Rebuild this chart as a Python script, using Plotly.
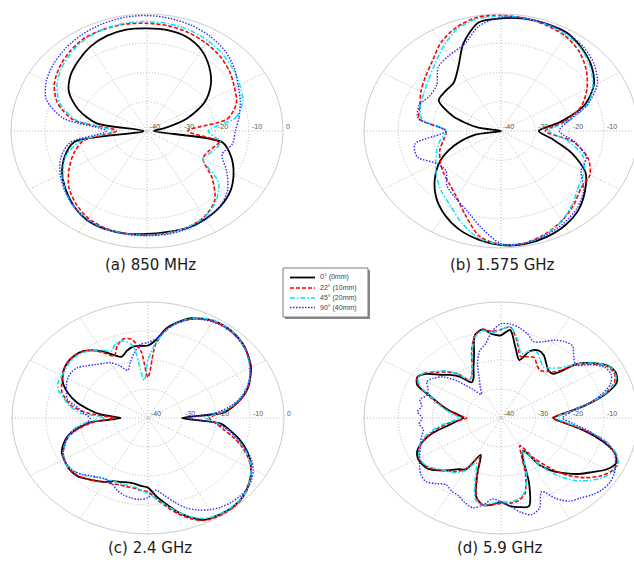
import math
import plotly.graph_objects as go

W, H = 634, 562
R_MIN = -40          # dB at the centre
RING_VALUES = [-40, -30, -20, -10, 0]

SERIES_NAMES = ["0° (0mm)", "22° (10mm)", "45° (20mm)", "90° (40mm)"]
PANEL_TITLES = ["(a) 850 MHz", "(b) 1.575 GHz", "(c) 2.4 GHz", "(d) 5.9 GHz"]

ANGLES_10 = list(range(0, 360, 10))
ANGLES_5 = list(range(0, 360, 5))

# ---------------- (a) 850 MHz, 10 deg steps ----------------
a_0mm = [-38, -35, -27.5, -20.5, -15.5, -11.5, -8, -5.8, -5, -4.9, -4.8, -5.4, -6.7, -8.6, -10.6, -13.5, -18.5, -25,
         -39, -18.3, -14.2, -11.2, -8.8, -6.5, -4.8, -4.3, -4.4, -4.8, -5, -4.8, -5.4, -6.4, -8, -10.6, -13.6, -17.4]
a_10mm = [-28, -16, -12, -10.3, -8.3, -6.6, -5.3, -4.2, -3.5, -3.2, -2.9, -3, -3.3, -4.6, -6.3, -8.5, -12, -18,
          -31, -21, -17, -13.5, -10, -7.5, -5.5, -4.6, -4.4, -4.4, -4.6, -5.0, -6.2, -9, -15, -21, -20.5, -18.5]
a_20mm = [-22, -13.5, -10, -8.5, -7, -5.5, -4.3, -3.3, -2.8, -2.6, -2.6, -2.9, -3.7, -5.2, -7, -9.4, -12.8, -19,
          -30, -20, -14.5, -11.5, -8.5, -6.5, -5.0, -4.4, -4.3, -4.4, -4.6, -5.0, -6.0, -8.5, -12.5, -21, -19.5, -18]
a_40mm = [-14, -12.5, -10.8, -9, -6.5, -4.3, -2.7, -1.6, -0.9, -0.5, -0.6, -1.1, -1.9, -2.9, -4.2, -5.8, -8.5, -15,
          -28, -17, -13, -10.5, -8.4, -6.4, -5.0, -4.4, -4.2, -4.2, -4.2, -4.5, -5.2, -6.5, -9, -13, -16.5, -14.5]

# ---------------- (b) 1.575 GHz, 10 deg steps ----------------
b_0mm = [-29, -22.5, -14, -8.7, -5.5, -3.2, -1.3, -1.0, -1.0, -1.5, -2.3, -8, -15, -18.5, -18.8, -19, -25, -33,
         -40, -32, -25.5, -19.5, -14.8, -10.5, -7, -4.2, -2.3, -1.0, -0.7, -1.4, -2.7, -4.8, -8, -11.5, -18, -25]
b_10mm = [-27, -21, -15, -11, -7.5, -4.5, -2.5, -1.5, -0.8, -0.5, -0.5, -2.2, -5, -8.8, -11.2, -13, -14.8, -15.8,
          -24, -23, -21, -19.5, -18, -16.5, -14, -9.5, -3.5, -1.2, -1, -2.5, -4.5, -7, -9.5, -10, -13, -18.5]
b_20mm = [-26, -20, -13, -9, -6, -3.5, -2, -1.2, -0.8, -0.7, -1, -2.8, -6.5, -10, -12.5, -14, -15, -16.5,
          -24, -22, -20, -18, -15.5, -13, -10.5, -6.5, -2.8, -1.2, -1, -2.2, -4.5, -7.5, -10.5, -12, -14.5, -20]
b_40mm = [-23, -20, -13, -7.5, -4.5, -2.5, -1.5, -1.0, -0.8, -1.2, -3.5, -8.5, -10, -11.5, -15.5, -16, -14.5, -15.5,
          -24, -14.5, -14, -18, -19, -15.5, -13.5, -11, -6.5, -1.5, -1, -2, -3.5, -5.5, -8.5, -13, -13.5, -18]

# ---------------- (c) 2.4 GHz, 5 deg steps ----------------
c_0mm = [-30, -17.5, -14, -11, -8.6, -6.8, -5, -3.8, -2.6, -1.8, -1.3, -1.1, -1.3, -2.2, -3.4, -5.8, -8.6, -13,
         -15, -15, -15, -16, -17.5, -16, -13.5, -11.5, -10, -9.5, -9.5, -10, -11, -12.5, -15, -18, -22, -26,
         -32, -23, -19, -15.5, -13.5, -12, -11.5, -11, -10.9, -11.3, -12.5, -13.5, -14.5, -16, -16.5, -17, -17, -16.5,
         -16, -13, -10, -6.5, -3.5, -1.2, -0.7, -0.5, -0.5, -1, -2, -3.3, -5, -7, -9.5, -12.3, -15.5, -18.7]
c_10mm = [-22, -18, -14, -11, -8.8, -6.8, -5.2, -3.8, -2.8, -2, -1.5, -1.3, -1.5, -2.3, -3.8, -6, -9, -14.5,
          -26, -17, -12.5, -11.8, -13.5, -16.5, -14, -11.5, -10, -9.5, -9.5, -10, -11, -12, -13, -15, -17.5, -23,
          -30, -24, -19.5, -16, -14, -12.5, -11.5, -11, -11, -11.5, -12.5, -13.5, -14.5, -15, -15.5, -15.5, -15.5, -15,
          -14.5, -12, -9, -5.8, -3, -1, -0.4, -0.2, -0.3, -0.8, -1.8, -3.2, -5, -7.5, -10.5, -14, -17.5, -20]
c_20mm = [-23, -18.5, -14.5, -11.5, -9, -7, -5.5, -4, -2.8, -1.8, -1.2, -1, -1.2, -2, -3.5, -6, -9.5, -14,
          -20, -27, -15, -12.5, -12.5, -14.5, -13, -11.5, -10.5, -10, -10, -10.5, -10.8, -10.8, -12, -14.5, -16.7, -20,
          -27, -22, -18, -16, -14, -12.5, -11.5, -11, -11.5, -12.5, -13.5, -15, -15.5, -16, -16, -16, -16, -15,
          -14, -12, -9.5, -6.5, -3.8, -1.8, -0.9, -0.6, -0.6, -1, -1.9, -3.3, -5, -7.2, -10, -13, -16, -19.5]
c_40mm = [-28, -20, -15, -11.5, -9, -7, -5.3, -4, -2.8, -2, -1.6, -1.5, -1.8, -2.5, -3.8, -6, -9, -12.5,
          -14, -14.5, -17, -20, -22.5, -20, -18, -17, -16, -14.5, -13, -12.5, -12.7, -13.5, -14.5, -15.5, -19, -21,
          -23, -22, -18, -15.5, -14, -12.5, -11.5, -11.3, -11.5, -12.5, -14, -15, -15.5, -15, -13.5, -12.5, -12, -11.8,
          -12.5, -15, -13, -10, -7, -5, -3.5, -2.5, -2, -1.8, -2, -2.8, -4.3, -6.5, -9.5, -13, -16, -20]

# ---------------- (d) 5.9 GHz, 5 deg steps ----------------
d_0mm = [-24.7, -21.5, -15, -8.5, -4, -3, -4, -7, -11, -18.5, -18.5, -17, -15, -14.3, -15.5, -19.3, -15.5, -9.5,
         -11.5, -11, -9, -10.5, -17, -21, -24, -25, -21.5, -19, -16.8, -13.5, -11.8, -13, -18, -21.5, -24.5, -27.5,
         -29, -27, -24, -19, -15.5, -13, -12, -12, -12.5, -14.5, -16.5, -18.5, -19.5, -26, -20, -12, -9.5, -10,
         -11, -9.5, -8.8, -8.5, -16, -25, -27, -20, -16, -13, -10, -7.5, -4.5, -3, -4.5, -9.5, -15.5, -21.5]
d_10mm = [-25, -21.5, -15.5, -9, -4.8, -3.5, -4.3, -7.5, -11.5, -17.5, -19, -20, -19, -17, -17.5, -18, -13, -8.5,
          -9.5, -10, -9, -10.5, -15, -20, -23, -24, -20, -17.5, -15.5, -13, -11.8, -13.5, -17.5, -21, -24, -27,
          -30, -26, -22, -18.5, -15.5, -13.5, -12.3, -12.3, -13, -14.5, -16, -17.5, -20, -25, -20, -12, -9.5, -10,
          -10.5, -10.5, -11, -13, -19, -26, -29, -23, -17, -12, -8, -5, -3, -2.5, -4.5, -8.5, -15, -21.5]
d_20mm = [-24, -21, -15, -9, -4.5, -3.2, -4, -7, -11, -15.5, -17.5, -18.5, -17, -15, -15.5, -17, -12.5, -8.5,
          -9.5, -10.5, -9.5, -11, -15.5, -20, -23, -24, -20, -17, -15, -12.8, -12, -14, -18, -21, -23.5, -26,
          -28, -25, -21, -17.5, -15, -13.5, -12.5, -12.5, -13.5, -15, -16, -17, -19, -23, -18, -11, -9.5, -10.5,
          -11, -11, -11.5, -13.5, -18, -24, -27, -20, -14, -9.5, -6.5, -4, -2.5, -2.3, -4.2, -8, -14, -20.5]
d_40mm = [-22, -20, -15, -10, -6, -4.5, -5, -8, -11.5, -10, -7.5, -7.8, -9, -11, -12, -10, -8.5, -7.5,
          -7.5, -10, -14, -16, -20, -25, -28, -30, -27, -22, -18, -16, -15, -16.5, -17, -15.5, -16.5, -15.5,
          -17, -16, -17, -16, -15, -14, -12.5, -11, -9.5, -9, -10.5, -12, -11, -10.5, -9, -8, -9.5, -12,
          -11, -9.5, -7, -5.5, -7, -12, -8, -5, -4, -2.5, -1.5, -1.2, -1.8, -3, -5, -9, -14, -19]

PANELS = [
    (ANGLES_10, [a_0mm, a_10mm, a_20mm, a_40mm]),
    (ANGLES_10, [b_0mm, b_10mm, b_20mm, b_40mm]),
    (ANGLES_5, [c_0mm, c_10mm, c_20mm, c_40mm]),
    (ANGLES_5, [d_0mm, d_10mm, d_20mm, d_40mm]),
]

# ---------------- styling / geometry (pixels) ----------------
STYLES = [
    dict(color="#000000", width=1.8, dash="solid"),
    dict(color="#ff0000", width=1.6, dash="4px,2px"),
    dict(color="#00e5ff", width=1.5, dash="5px,2px,1.5px,2px"),
    dict(color="#2a2aff", width=1.4, dash="1.5px,1.5px"),
]
# centre x, centre y, x radius, y radius of the 0 dB ring
PANEL_GEOM = [(147, 131, 136, 117), (501, 131, 137, 117), (148, 418, 136, 116), (501, 418, 137, 116)]
CAPTION_POS = [(150, 265), (503, 265), (150, 548), (500, 548)]
PAD = 8

fig = go.Figure()
shapes = []
annotations = []
layout_axes = {}
span = 0 - R_MIN

for p, (angles, series) in enumerate(PANELS):
    sfx = "" if p == 0 else str(p + 1)
    xref, yref = "x" + sfx, "y" + sfx
    cx, cy, rx, ry = PANEL_GEOM[p]
    kx, ky = rx / span, ry / span
    x0 = max(0, cx - rx - PAD); x1 = min(W, cx + rx + PAD)
    y0 = max(0, cy - ry - PAD); y1 = min(H, cy + ry + PAD)
    layout_axes["xaxis" + sfx] = dict(domain=[x0 / W, x1 / W], range=[(x0 - cx) / kx, (x1 - cx) / kx],
                                      visible=False, fixedrange=True, anchor=yref)
    layout_axes["yaxis" + sfx] = dict(domain=[1 - y1 / H, 1 - y0 / H], range=[(cy - y1) / ky, (cy - y0) / ky],
                                      visible=False, fixedrange=True, anchor=xref)

    # grid rings
    for v in RING_VALUES[1:]:
        r = v - R_MIN
        outer = v == RING_VALUES[-1]
        shapes.append(dict(type="circle", xref=xref, yref=yref, x0=-r, x1=r, y0=-r, y1=r, layer="below",
                           line=dict(color="#cccccc" if outer else "#b8b8b8", width=1,
                                     dash="solid" if outer else "1px,2px")))
    # spokes
    for phi in range(0, 180, 30):
        c, s = math.cos(math.radians(phi)), math.sin(math.radians(phi))
        shapes.append(dict(type="line", xref=xref, yref=yref, x0=-span * c, y0=-span * s, x1=span * c, y1=span * s,
                           layer="below", line=dict(color="#b8b8b8", width=1, dash="1px,2px")))
    # ring labels
    for v in RING_VALUES:
        annotations.append(dict(x=v - R_MIN, y=0, xref=xref, yref=yref, text=str(v), showarrow=False,
                                xanchor="left", yanchor="bottom", xshift=1, yshift=-1,
                                font=dict(size=7, color="#555555", family="Liberation Sans")))

    # pattern curves
    for s_i, vals in enumerate(series):
        th = list(angles) + [angles[0]]
        vv = list(vals) + [vals[0]]
        rr = [max(v - R_MIN, 0) for v in vv]
        xs = [r * math.cos(math.radians(t)) for r, t in zip(rr, th)]
        ys = [r * math.sin(math.radians(t)) for r, t in zip(rr, th)]
        st = STYLES[s_i]
        fig.add_trace(go.Scatter(x=xs, y=ys, mode="lines", name=SERIES_NAMES[s_i], showlegend=False,
                                 xaxis=xref, yaxis=yref, hoverinfo="skip",
                                 line=dict(color=st["color"], width=st["width"], dash=st["dash"],
                                           shape="spline", smoothing=0.8)))

    # caption
    px, py = CAPTION_POS[p]
    annotations.append(dict(x=px / W, y=1 - py / H, xref="paper", yref="paper", text=PANEL_TITLES[p],
                            showarrow=False, xanchor="center", yanchor="middle",
                            font=dict(size=15, color="#1a1a1a", family="DejaVu Sans")))

# ---------------- legend (drawn box) ----------------
LEG = (283, 268, 368, 317)
ROWS = [277.5, 288, 298, 307.5]


def px2paper(x, y):
    return x / W, 1 - y / H


sx0, sy0 = px2paper(LEG[0] + 2, LEG[1] + 2)
sx1, sy1 = px2paper(LEG[2] + 2, LEG[3] + 2)
shapes.append(dict(type="rect", xref="paper", yref="paper", x0=sx0, y0=sy1, x1=sx1, y1=sy0,
                   fillcolor="#8a8a8a", line=dict(width=0), layer="above"))
bx0, by0 = px2paper(LEG[0], LEG[1])
bx1, by1 = px2paper(LEG[2], LEG[3])
shapes.append(dict(type="rect", xref="paper", yref="paper", x0=bx0, y0=by1, x1=bx1, y1=by0,
                   fillcolor="white", line=dict(color="#7a7a7a", width=1), layer="above"))
for i, ry in enumerate(ROWS):
    lx0, ly = px2paper(290, ry)
    lx1, _ = px2paper(315, ry)
    st = STYLES[i]
    shapes.append(dict(type="line", xref="paper", yref="paper", x0=lx0, x1=lx1, y0=ly, y1=ly, layer="above",
                       line=dict(color=st["color"], width=st["width"], dash=st["dash"])))
    tx, ty = px2paper(318, ry)
    annotations.append(dict(x=tx, y=ty, xref="paper", yref="paper", text=SERIES_NAMES[i], showarrow=False,
                            xanchor="left", yanchor="middle",
                            font=dict(size=7, color="#444444", family="Liberation Sans")))

fig.update_layout(width=W, height=H, autosize=False, margin=dict(l=0, r=0, t=0, b=0),
                  paper_bgcolor="white", plot_bgcolor="rgba(0,0,0,0)", showlegend=False,
                  shapes=shapes, annotations=annotations, **layout_axes)

fig.write_html("out.html", config={"displayModeBar": False, "staticPlot": True},
               post_script="document.body.style.margin='0';document.body.style.overflow='hidden';")
